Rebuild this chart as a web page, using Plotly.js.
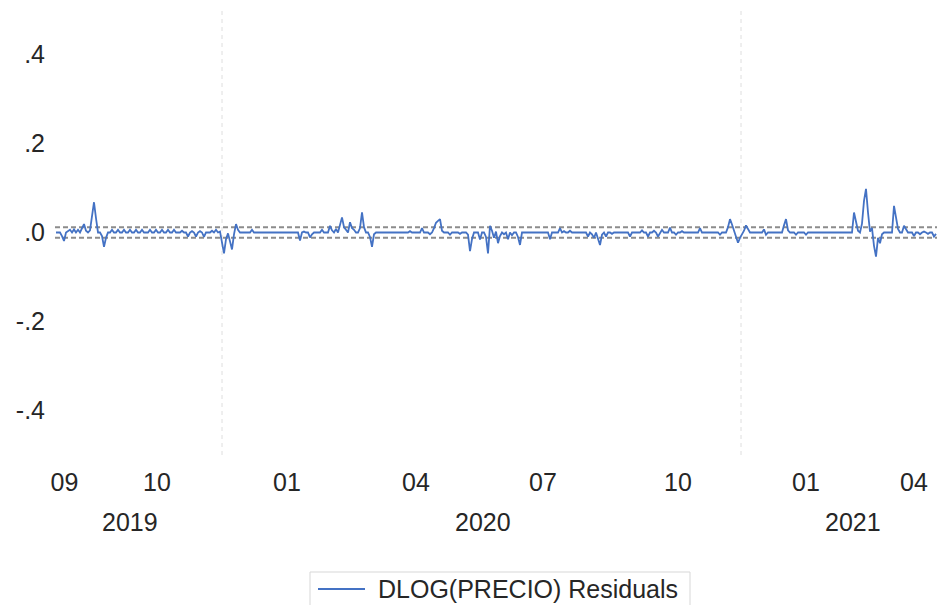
<!DOCTYPE html>
<html>
<head>
<meta charset="utf-8">
<script src="https://cdn.plot.ly/plotly-3.0.1.min.js"></script>
<style>
  html, body { margin: 0; padding: 0; background: #ffffff; }
  #chart { width: 937px; height: 605px; }
</style>
</head>
<body>
<div id="chart"></div>
<script>
// Residuals of DLOG(PRECIO), one value per business-day observation (Sep 2019 - May 2021)
const residuals = [
  0,0,0,-0.008,-0.019,0,0.004,0.006,0,0.007,
  0,0.006,0,0.01,0.019,0.004,0,0.005,0.032,0.068,
  0.032,0,0,-0.008,-0.032,-0.012,0,0,0.006,0,
  0,0.006,0,0,0.006,0,0,0.006,0,0,
  0.006,0,0,0.006,0,0,0,0.006,0,0,
  0.006,0,0,0.006,0,0,0.006,0,0,0.006,
  0,0,0,0.004,0,0,-0.009,0,0.003,0,
  -0.009,0,0.003,0,-0.01,0,0,0,0.004,0,
  0.006,0,0.002,-0.025,-0.047,-0.015,-0.002,-0.02,-0.038,-0.004,
  0.019,0.006,0,0,0,0,0,0,0.006,0,
  0,0,0,0,0,0,0,0,0,0,
  0,0,0,0,0,0,0,0,0,0,
  0,0,-0.018,0,0.002,0,0,-0.011,-0.004,0,
  0,0,0,0.006,0,0,0,0.015,0.005,0,
  0.008,0,0.018,0.034,0.012,0.005,0,0.023,0.01,0.006,
  0,0,0.01,0.045,0.012,0,0,-0.01,-0.032,-0.004,
  0,0,0,0,0,0,0,0,0,0,
  0,0,0,0,0,0,0,0.003,0,0,
  0,0,0,0.01,0,0,0,-0.004,0,0.01,
  0.022,0.026,0.03,0.004,0,0,0,-0.005,0,0,
  0,0,-0.003,0,0,0,-0.005,-0.042,-0.015,0,
  0,0,-0.016,0,0,-0.01,-0.047,0.015,0.004,-0.012,
  0.002,-0.024,-0.008,0,-0.004,0,-0.015,0,-0.006,0,
  0,-0.01,-0.028,0,0,0,0,0,0,0,
  0,0,0,0,0,0,0,-0.015,0,0,
  0,0,0.01,0,0.003,0,0,0.004,0,0,
  0,0,0,0,0,0,-0.009,0,-0.004,-0.012,
  0,-0.012,-0.028,-0.005,0,-0.009,0,0,-0.003,0,
  0,0,0,0,0,0,0,-0.009,0,0,
  0,0,0,0.005,0,0,-0.009,0,0,0.004,
  0,-0.009,0,0.006,0,0,0,0.011,0,0,
  -0.005,0,0,0.003,0,0,0,0,0,0,
  0,0,0.01,0,0,0,0,0,0,0,
  0,0,-0.005,0,0,0,0.012,0.03,0.018,0.004,
  -0.008,-0.023,-0.012,-0.004,0.004,0.016,0.008,0,0,0,
  0,0,0,0,0.007,-0.005,0,0,0,0,
  0,0,0,0,0.016,0.03,0.005,0,0,0,
  -0.005,0,0,0,0,-0.005,0,0,0,0,
  0,0,0,0,0,0,0,0,0,0,
  0,0,0,0,0,0,0,0,0,0.045,
  0.023,0.004,0,0.02,0.071,0.098,0.045,0.002,0.01,-0.03,
  -0.054,-0.012,-0.024,-0.004,0,0,0,0,0,0.06,
  0.03,0.008,0,0,0.015,0.006,0,0,0,-0.008,
  0,0,-0.004,0,0.002,0,-0.003,0,0,-0.009,
  -0.003
];
const observations = residuals.map((v, i) => i);

// Axis labels (in observation units)
const monthTickPos  = [4.25, 50.5, 115.5, 180, 243.5, 311, 375, 429];
const monthTickText = ['09', '10', '01', '04', '07', '10', '01', '04'];
const yearLabelPos  = [36.75, 213.5, 398.5];
const yearLabelText = ['2019', '2020', '2021'];
const yearBoundaries = [83, 342.5];
const yTickVals = [-0.4, -0.2, 0, 0.2, 0.4];
const yTickText = ['-.4', '-.2', '.0', '.2', '.4'];
const bandLimits = [-0.012, 0.012];
const seriesName = 'DLOG(PRECIO) Residuals';

const FONT = '"Liberation Sans", Arial, sans-serif';
const TXT = '#262626';
const BLUE = '#4472c4';

const trace = {
  x: observations,
  y: residuals,
  type: 'scatter',
  mode: 'lines',
  name: seriesName,
  line: { color: BLUE, width: 1.8 },
  showlegend: false,
  hoverinfo: 'skip'
};

const shapes = [];
yearBoundaries.forEach(b => shapes.push({
  type: 'line', xref: 'x', yref: 'paper', x0: b, x1: b, y0: 0, y1: 1,
  line: { color: 'rgb(222,222,222)', width: 1, dash: '4px,4px' }, layer: 'below'
}));
bandLimits.forEach(v => shapes.push({
  type: 'line', xref: 'paper', yref: 'y', x0: 0, x1: 1, y0: v, y1: v,
  line: { color: 'rgb(140,140,140)', width: 2, dash: '5px,3px' }, layer: 'below'
}));
// legend box (manual)
const px = p => (p - 55) / 882;
const py = p => (455 - p) / 445;
shapes.push({
  type: 'rect', xref: 'paper', yref: 'paper',
  x0: px(310), x1: px(690), y0: py(572), y1: py(660),
  line: { color: 'rgb(215,215,215)', width: 1 }, fillcolor: 'rgba(0,0,0,0)'
});
shapes.push({
  type: 'line', xref: 'paper', yref: 'paper',
  x0: px(318), x1: px(365), y0: py(589), y1: py(589),
  line: { color: BLUE, width: 1.8 }
});

const annotations = yearLabelPos.map((p, i) => ({
  x: p, xref: 'x', y: 0, yref: 'paper', yshift: -67,
  text: yearLabelText[i], showarrow: false, xanchor: 'center', yanchor: 'middle',
  font: { family: FONT, size: 25, color: TXT }
}));
annotations.push({
  x: px(376), xref: 'paper', y: py(589), yref: 'paper',
  text: seriesName, showarrow: false, xanchor: 'left', yanchor: 'middle',
  font: { family: FONT, size: 25, color: TXT }
});

const layout = {
  width: 937, height: 605,
  margin: { l: 55, r: 0, t: 10, b: 150, pad: 0 },
  paper_bgcolor: '#ffffff', plot_bgcolor: '#ffffff',
  font: { family: FONT, size: 25, color: TXT },
  showlegend: false,
  xaxis: {
    range: [-0.5, 440.5], showgrid: false, zeroline: false, showline: false,
    tickmode: 'array', tickvals: monthTickPos, ticktext: monthTickText,
    ticks: '', ticklabelstandoff: 10,
    tickfont: { family: FONT, size: 25, color: TXT }, fixedrange: true
  },
  yaxis: {
    range: [-0.5, 0.5], showgrid: false, zeroline: false, showline: false,
    tickmode: 'array', tickvals: yTickVals, ticktext: yTickText,
    ticks: '', ticklabelstandoff: 9,
    tickfont: { family: FONT, size: 25, color: TXT }, fixedrange: true
  },
  shapes: shapes,
  annotations: annotations
};

Plotly.newPlot('chart', [trace], layout, { displayModeBar: false, staticPlot: true });
</script>
</body>
</html>
